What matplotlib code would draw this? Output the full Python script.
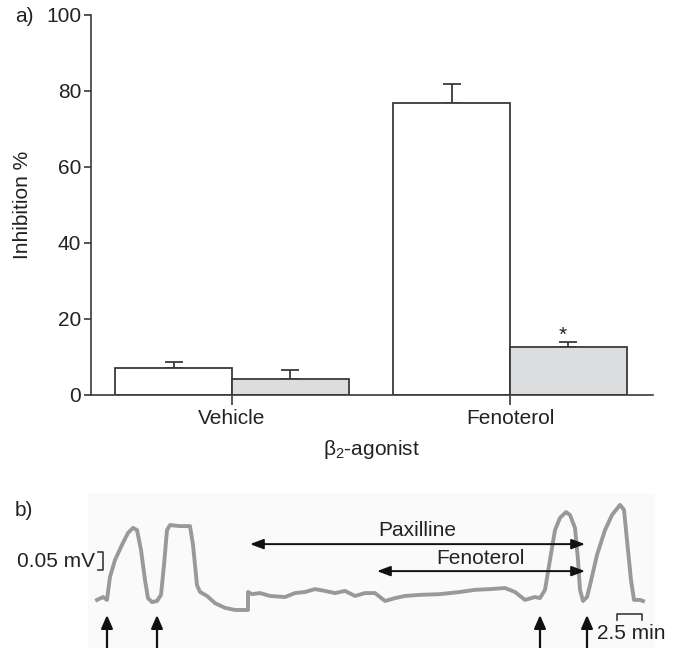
import matplotlib
matplotlib.use("Agg")
import matplotlib.pyplot as plt
import numpy as np

plt.rcParams['font.family'] = ['Liberation Sans', 'DejaVu Sans']
plt.rcParams['mathtext.fontset'] = 'custom'
plt.rcParams['mathtext.rm'] = 'Liberation Sans'

# panel a data
groups = ['Vehicle', 'Fenoterol']
control_vals = [7.1, 76.8]
control_err = [1.6, 5.0]
paxilline_vals = [4.2, 12.6]
paxilline_err = [2.4, 1.3]

# panel b trace (time in min, potential in mV)
trace_t = [0.9, 1.5, 1.9, 2.2, 2.7, 3.4, 4.0, 4.5, 4.9, 5.3, 5.7, 6.0, 6.4, 6.9,
           7.3, 7.6, 7.9, 8.2, 9.2, 10.2, 10.5, 10.9, 11.2, 11.9, 12.7, 13.7,
           14.7, 16.0, 16.0, 16.4, 17.2, 18.2, 19.7, 20.7, 21.7, 22.7, 23.7,
           24.7, 25.7, 26.7, 27.7, 28.7, 29.7, 30.7, 31.7, 33.2, 35.2, 37.2,
           38.7, 40.2, 41.7, 42.7, 43.7, 44.7, 45.2, 45.7, 46.2, 46.7, 47.2,
           47.8, 48.2, 48.7, 49.0, 49.2, 49.5, 49.9, 50.2, 50.9, 51.7, 52.4,
           53.2, 53.6, 53.9, 54.3, 54.6, 55.2, 55.5]
trace_v = [0.028, 0.036, 0.028, 0.092, 0.139, 0.181, 0.214, 0.228, 0.222, 0.167,
           0.083, 0.033, 0.022, 0.025, 0.042, 0.125, 0.222, 0.236, 0.233, 0.233,
           0.181, 0.069, 0.050, 0.039, 0.019, 0.006, 0.0, 0.0, 0.050, 0.044,
           0.047, 0.039, 0.036, 0.047, 0.050, 0.058, 0.053, 0.047, 0.053, 0.039,
           0.047, 0.047, 0.025, 0.033, 0.039, 0.042, 0.044, 0.050, 0.056, 0.058,
           0.061, 0.050, 0.028, 0.036, 0.033, 0.056, 0.139, 0.222, 0.256, 0.272,
           0.264, 0.228, 0.139, 0.056, 0.025, 0.036, 0.069, 0.153, 0.222, 0.264,
           0.292, 0.278, 0.194, 0.083, 0.028, 0.028, 0.025]
stim_times = [1.9, 6.9, 45.2, 49.9]
paxilline_span = [16.2, 49.7]
fenoterol_span = [28.9, 49.7]

dark = '#3a3a3a'
txt = '#222222'
fs = 15

fig = plt.figure(figsize=(6.76, 6.48), dpi=100)

# ---- panel a ----
ax = fig.add_axes([91/676, 1 - 395/648, (653 - 91)/676, (395 - 15)/648])
x = np.arange(len(groups))
w = 0.42
ax.bar(x - w/2, control_vals, w, color='white', edgecolor=dark, linewidth=1.3, zorder=2)
ax.bar(x + w/2, paxilline_vals, w, color='#dcdddf', edgecolor=dark, linewidth=1.3, zorder=2)
ax.errorbar(x - w/2, control_vals, yerr=[np.zeros(2), control_err], fmt='none',
            ecolor=dark, elinewidth=1.3, capsize=6.5, capthick=1.3, zorder=1)
ax.errorbar(x + w/2, paxilline_vals, yerr=[np.zeros(2), paxilline_err], fmt='none',
            ecolor=dark, elinewidth=1.3, capsize=6.5, capthick=1.3, zorder=1)
ax.text(x[1] + w/2 - 0.02, paxilline_vals[1] + paxilline_err[1] - 0.6, '*',
        ha='center', va='bottom', fontsize=fs, color=txt)

ax.set_xlim(-0.507, 1.514)
ax.set_ylim(0, 100)
ax.set_yticks([0, 20, 40, 60, 80, 100])
ax.set_xticks(x)
ax.set_xticklabels(groups)
for s in ['top', 'right']:
    ax.spines[s].set_visible(False)
for s in ['left', 'bottom']:
    ax.spines[s].set_color(dark)
    ax.spines[s].set_linewidth(1.2)
ax.tick_params(axis='y', length=5, width=1.2, color=dark, labelsize=fs, labelcolor=txt, pad=2)
ax.tick_params(axis='x', length=7, width=1.2, color=dark, labelsize=fs, labelcolor=txt, pad=3)
ax.set_ylabel('Inhibition %', fontsize=fs, color=txt, labelpad=10)
ax.set_xlabel('β$_2$-agonist', fontsize=fs, color=txt, labelpad=7)
fig.text(15/676, 1 - 17/648, 'a)', fontsize=fs, color=txt, va='center')

# ---- panel b ----
bx = fig.add_axes([88/676, 0, (655 - 88)/676, (648 - 493)/648])
bx.set_facecolor('#fafafa')
for s in bx.spines.values():
    s.set_visible(False)
bx.set_xticks([])
bx.set_yticks([])
bx.set_xlim(0, 56.7)
bx.set_ylim(-0.1056, 0.325)

bx.plot(trace_t, trace_v, color='#8f8f8f', lw=2.8, solid_joinstyle='round', alpha=0.9)

for t in stim_times:
    bx.annotate('', xy=(t, -0.014), xytext=(t, -0.11),
                arrowprops=dict(arrowstyle='-|>,head_width=0.35,head_length=0.8',
                                color='#111', lw=1.6, shrinkA=0, shrinkB=0),
                annotation_clip=False)

for span, yv in [(paxilline_span, 0.183), (fenoterol_span, 0.108)]:
    bx.annotate('', xy=(span[0], yv), xytext=(span[1], yv),
                arrowprops=dict(arrowstyle='<|-|>,head_width=0.3,head_length=0.8',
                                color='#111', lw=1.4, shrinkA=0, shrinkB=0))
bx.text(32.9, 0.222, 'Paxilline', ha='center', va='center', fontsize=fs, color=txt)
bx.text(39.2, 0.144, 'Fenoterol', ha='center', va='center', fontsize=fs, color=txt)

# scale bars
bx.plot([52.9, 52.9, 55.4, 55.4], [-0.028, -0.011, -0.011, -0.028], color=dark, lw=1.2)
bx.text(50.9, -0.064, '2.5 min', ha='left', va='center', fontsize=fs, color=txt)
bx.plot([1.0, 1.5, 1.5, 1.0], [0.161, 0.161, 0.111, 0.111], color=dark, lw=1.2, clip_on=False)
bx.text(0.7, 0.136, '0.05 mV', ha='right', va='center', fontsize=fs, color=txt, clip_on=False)
fig.text(15/676, 1 - 510/648, 'b)', fontsize=fs, color=txt, va='center')

fig.savefig('out.png', dpi=100)
